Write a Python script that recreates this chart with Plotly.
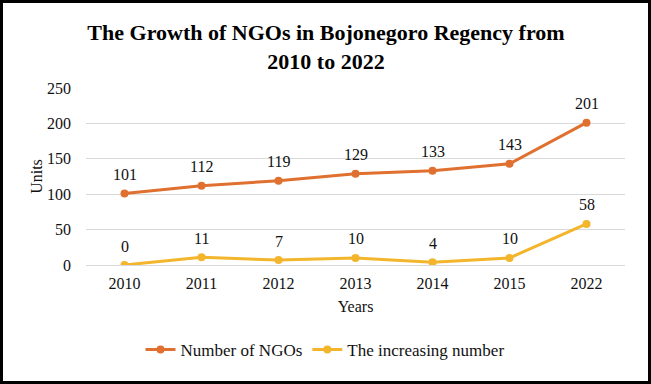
import plotly.graph_objects as go

years = ["2010", "2011", "2012", "2013", "2014", "2015", "2022"]
ngos = [101, 112, 119, 129, 133, 143, 201]
increase = [0, 11, 7, 10, 4, 10, 58]

W, H = 651, 384
L, R, T, B = 86, 26, 88, 119
pw, ph = W - L - R, H - T - B

font = "Liberation Serif, Times New Roman, serif"
C1, C2 = "#E0702F", "#F2B52C"

fig = go.Figure()
fig.add_trace(go.Scatter(
    x=years, y=ngos, name="Number of NGOs", mode="lines+markers",
    line=dict(color=C1, width=3), marker=dict(size=8, color=C1),
))
fig.add_trace(go.Scatter(
    x=years, y=increase, name="The increasing number", mode="lines+markers",
    line=dict(color=C2, width=3), marker=dict(size=8, color=C2),
))

for series in (ngos, increase):
    for i, yv in enumerate(series):
        fig.add_annotation(x=i, y=yv, text=str(yv), showarrow=False,
                           yshift=19, font=dict(family=font, size=16, color="#111"))

fig.update_layout(
    width=W, height=H,
    margin=dict(l=L, r=R, t=T, b=B, autoexpand=False),
    paper_bgcolor="white", plot_bgcolor="white",
    font=dict(family=font, size=16, color="#111"),
    title=dict(text="<b>The Growth of NGOs in Bojonegoro Regency from<br>2010 to 2022</b>",
               x=326 / W, xanchor="center", y=1 - 40 / H, yanchor="top",
               font=dict(family=font, size=22, color="black")),
    showlegend=True,
    legend=dict(orientation="h", x=(325 - L) / pw, xanchor="center",
                y=(T + ph - 350) / ph, yanchor="middle",
                font=dict(family=font, size=17, color="#111")),
    xaxis=dict(type="category", range=[-0.5, len(years) - 0.5],
               showgrid=False, showline=False, ticks="", ticklabelstandoff=7,
               title=dict(text="Years", font=dict(family=font, size=16), standoff=9),
               tickfont=dict(family=font, size=16)),
    yaxis=dict(range=[0, 250], dtick=50, showgrid=True, gridcolor="#D9D9D9", gridwidth=1,
               zeroline=True, zerolinecolor="#D9D9D9", zerolinewidth=1,
               showline=False, ticks="", ticklabelstandoff=14,
               title=dict(text="Units", font=dict(family=font, size=16), standoff=0),
               tickfont=dict(family=font, size=16)),
)

fig.add_shape(type="rect", xref="paper", yref="paper",
              x0=(1.5 - L) / pw, x1=(W - 1.5 - L) / pw,
              y0=(T + ph - (H - 1.5)) / ph, y1=(T + ph - 1.5) / ph,
              line=dict(color="black", width=3), fillcolor="rgba(0,0,0,0)", layer="above")

fig.write_html("out.html", config={"displayModeBar": False},
               post_script="document.body.style.margin='0';")
